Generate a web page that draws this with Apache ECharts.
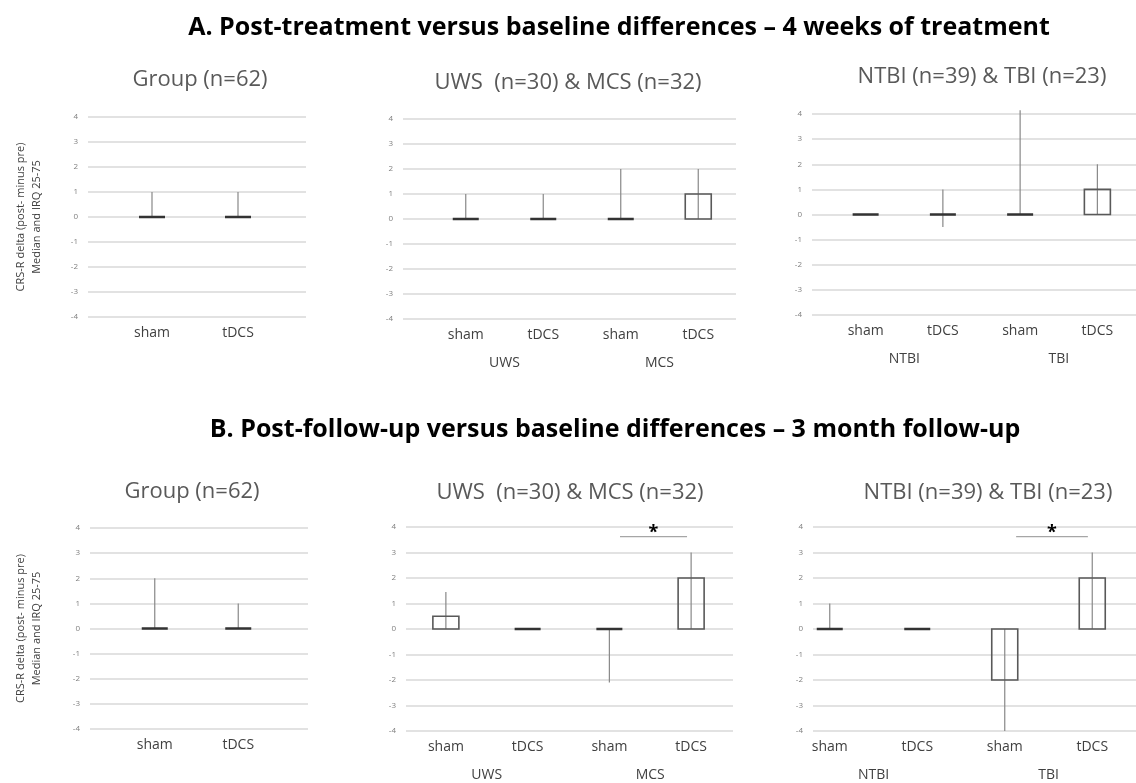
<!DOCTYPE html>
<html>
<head>
<meta charset="utf-8">
<script src="https://cdn.jsdelivr.net/npm/echarts@6/dist/echarts.min.js"></script>
<style>
html,body{margin:0;padding:0;background:#fff;}
#chart{width:1136px;height:783px;}
</style>
</head>
<body>
<div id="chart"></div>
<script>
// ---------- data ----------
const mainTitleA = 'A. Post-treatment versus baseline differences \u2013 4 weeks of treatment';
const mainTitleB = 'B. Post-follow-up versus baseline differences \u2013 3 month follow-up';
const titleGroup = 'Group (n=62)';
const titleState = 'UWS  (n=30) & MCS (n=32)';
const titleEtio = 'NTBI (n=39) & TBI (n=23)';
const yAxisName = 'CRS-R delta (post- minus pre)\nMedian and IRQ 25-75';

const catsGroup = ['sham', 'tDCS'];
const catsSub = ['sham', 'tDCS', 'sham', 'tDCS'];
const groupsState = ['UWS', 'MCS'];
const groupsEtio = ['NTBI', 'TBI'];

const yMin = -4, yMax = 4, yStep = 1;

// A: 4 weeks of treatment (median, IQR 25 / 75)
const A_group_median = [0, 0];
const A_group_q1 = [0, 0];
const A_group_q3 = [1, 1];

const A_state_median = [0, 0, 0, 1];
const A_state_q1 = [0, 0, 0, 0];
const A_state_q3 = [1, 1, 2, 2];

const A_etio_median = [0, 0, 0, 1];
const A_etio_q1 = [0, -0.5, 0, 0];
const A_etio_q3 = [0, 1, 4.15, 2];

// B: 3 month follow-up
const B_group_median = [0, 0];
const B_group_q1 = [0, 0];
const B_group_q3 = [2, 1];

const B_state_median = [0.5, 0, 0, 2];
const B_state_q1 = [0, 0, -2.1, 0];
const B_state_q3 = [1.45, 0, 0, 3];

const B_etio_median = [0, 0, -2, 2];
const B_etio_q1 = [0, 0, -4, 0];
const B_etio_q3 = [1, 0, 0, 3];

// significance brackets: [from category, to category]
const B_state_sig = [[2, 3]];
const B_etio_sig = [[2, 3]];

// ---------- layout ----------
const FONT = "'Open Sans', 'Noto Sans', sans-serif";
const panels = [
  {title: titleGroup, tx: 200, ty: 80, cats: catsGroup, groups: null,
   med: A_group_median, q1: A_group_q1, q3: A_group_q3, sig: [],
   bg: {left: 88, top: 117, width: 218, height: 200}, band: {left: 109, width: 172}, yName: true, nameGap: 43},
  {title: titleState, tx: 568, ty: 83, cats: catsSub, groups: groupsState,
   med: A_state_median, q1: A_state_q1, q3: A_state_q3, sig: [],
   bg: {left: 403, top: 119, width: 333, height: 200}, band: {left: 427, width: 310}},
  {title: titleEtio, tx: 982, ty: 77, cats: catsSub, groups: groupsEtio,
   med: A_etio_median, q1: A_etio_q1, q3: A_etio_q3, sig: [],
   bg: {left: 812, top: 114, width: 324, height: 201}, band: {left: 827, width: 318}},
  {title: titleGroup, tx: 192, ty: 492, cats: catsGroup, groups: null,
   med: B_group_median, q1: B_group_q1, q3: B_group_q3, sig: [],
   bg: {left: 90, top: 528, width: 218, height: 201}, band: {left: 113, width: 167}, yName: true, nameGap: 45},
  {title: titleState, tx: 570, ty: 493, cats: catsSub, groups: groupsState,
   med: B_state_median, q1: B_state_q1, q3: B_state_q3, sig: B_state_sig,
   bg: {left: 406, top: 527, width: 327, height: 204}, band: {left: 405, width: 327}},
  {title: titleEtio, tx: 988, ty: 493, cats: catsSub, groups: groupsEtio,
   med: B_etio_median, q1: B_etio_q1, q3: B_etio_q3, sig: B_etio_sig,
   bg: {left: 813, top: 527, width: 323, height: 204}, band: {left: 786, width: 364}}
];

const grid = [], xAxis = [], yAxis = [], series = [];
const graphic = [
  {type: 'text', x: 619, y: 28, style: {text: mainTitleA, font: 'bold 25px ' + FONT, fill: '#000', align: 'center', verticalAlign: 'middle'}},
  {type: 'text', x: 615, y: 430, style: {text: mainTitleB, font: 'bold 25px ' + FONT, fill: '#000', align: 'center', verticalAlign: 'middle'}}
];

function renderBox(params, api) {
  const c = api.value(0);
  const med = api.value(1), lo = api.value(2), hi = api.value(3);
  const p0 = api.coord([c, 0]);
  const pm = api.coord([c, med]);
  const pl = api.coord([c, lo]);
  const ph = api.coord([c, hi]);
  const w = 26;
  const children = [];
  if (hi !== lo) {
    children.push({type: 'line', shape: {x1: p0[0], y1: pl[1], x2: p0[0], y2: ph[1]},
      style: {stroke: '#888', lineWidth: 1.2}});
  }
  const flat = med === 0;
  children.push({type: 'rect',
    shape: {x: p0[0] - w / 2, y: Math.min(p0[1], pm[1]), width: w, height: Math.abs(pm[1] - p0[1])},
    style: {fill: 'none', stroke: flat ? '#333' : '#595959', lineWidth: flat ? 2.4 : 1.6}});
  return {type: 'group', children};
}

function renderSig(params, api) {
  const a = api.value(0), b = api.value(1);
  const band = api.size([1, 0])[0];
  const pa = api.coord([a, 3.62]);
  const pb = api.coord([b, 3.62]);
  const ps = api.coord([(a + b) / 2, 4]);
  const x1 = pa[0] + band * 0.13, x2 = pb[0] - band * 0.05;
  return {type: 'group', children: [
    {type: 'line', shape: {x1: x1, y1: pa[1], x2: x2, y2: pb[1]}, style: {stroke: '#a6a6a6', lineWidth: 1.3}},
    {type: 'text', style: {text: '*', x: (x1 + x2) / 2, y: ps[1] + 6, align: 'center', verticalAlign: 'middle',
      font: 'bold 18px ' + FONT, fill: '#000'}}
  ]};
}

panels.forEach((p, i) => {
  const gBg = grid.length;
  grid.push({left: p.bg.left, top: p.bg.top, width: p.bg.width, height: p.bg.height});
  const gBar = grid.length;
  grid.push({left: p.band.left, top: p.bg.top, width: p.band.width, height: p.bg.height});

  // background y axis with gridlines
  yAxis.push({type: 'value', gridIndex: gBg, min: yMin, max: yMax, interval: yStep,
    axisLine: {show: false}, axisTick: {show: false},
    axisLabel: {color: '#7f7f7f', fontSize: 8, fontFamily: FONT, margin: 10},
    splitLine: {lineStyle: {color: '#d9d9d9', width: 1.5}},
    name: p.yName ? yAxisName : '', nameLocation: 'middle', nameRotate: 90, nameGap: p.nameGap || 40,
    nameTextStyle: {color: '#404040', fontSize: 11, fontFamily: FONT, lineHeight: 16}});
  xAxis.push({type: 'value', gridIndex: gBg, show: false, min: 0, max: 1});

  // bar y axis (hidden, same scale)
  yAxis.push({type: 'value', gridIndex: gBar, min: yMin, max: yMax, interval: yStep, show: false});
  const yBar = yAxis.length - 1;
  xAxis.push({type: 'category', gridIndex: gBar, data: p.cats, position: 'bottom',
    axisLine: {show: false}, axisTick: {show: false}, splitLine: {show: false},
    axisLabel: {interval: 0, margin: 9, color: '#404040', fontSize: 14, fontFamily: FONT}});
  const xBar = xAxis.length - 1;
  if (p.groups) {
    xAxis.push({type: 'category', gridIndex: gBar, data: p.groups, position: 'bottom',
      axisLine: {show: false}, axisTick: {show: false}, splitLine: {show: false},
      axisLabel: {interval: 0, margin: 37, color: '#404040', fontSize: 14, fontFamily: FONT}});
  }

  series.push({type: 'custom', xAxisIndex: xBar, yAxisIndex: yBar, clip: false, silent: true,
    renderItem: renderBox, encode: {x: 0, y: [1, 2, 3]},
    data: p.med.map((m, k) => [k, m, p.q1[k], p.q3[k]])});
  if (p.sig.length) {
    series.push({type: 'custom', xAxisIndex: xBar, yAxisIndex: yBar, clip: false, silent: true,
      renderItem: renderSig, data: p.sig.map(s => [s[0], s[1]])});
  }

  graphic.push({type: 'text', x: p.tx, y: p.ty,
    style: {text: p.title, font: '22px ' + FONT, fill: '#595959', align: 'center', verticalAlign: 'middle'}});
});

const chart = echarts.init(document.getElementById('chart'), null, {renderer: 'canvas'});
chart.setOption({
  animation: false,
  backgroundColor: '#fff',
  grid, xAxis, yAxis, series, graphic
});
</script>
</body>
</html>
